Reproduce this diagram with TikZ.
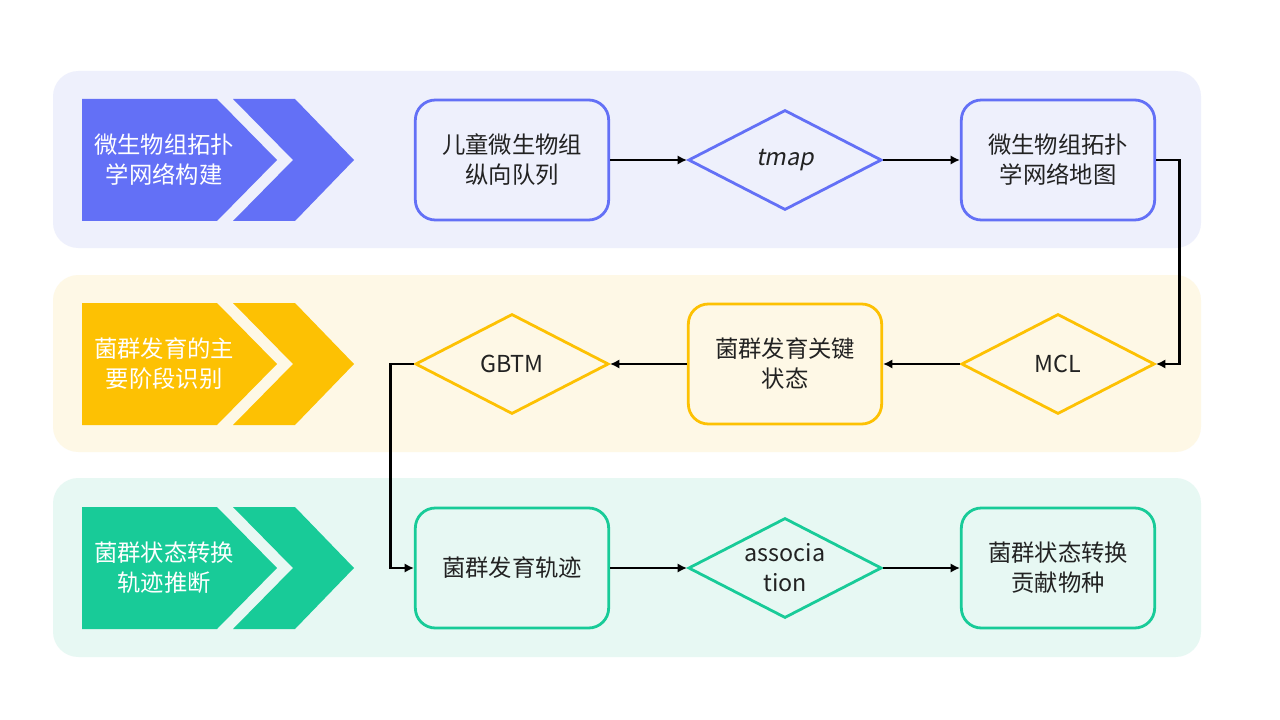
\documentclass[tikz,border=0pt]{standalone}
\usepackage{fontspec}
\setmainfont{Noto Sans CJK SC}
\newfontfamily\slantfont[FakeSlant=0.2]{Noto Sans CJK SC}
\usetikzlibrary{shapes.geometric,arrows.meta}
\definecolor{pur}{HTML}{6370F6}
\definecolor{purbg}{HTML}{EEF0FC}
\definecolor{yel}{HTML}{FDC103}
\definecolor{yelbg}{HTML}{FEF8E6}
\definecolor{grn}{HTML}{18CB98}
\definecolor{grnbg}{HTML}{E7F8F3}
\definecolor{txt}{HTML}{222222}
\begin{document}
\begin{tikzpicture}[x=0.75pt,y=-0.75pt,
  band/.style={rounded corners=19pt, draw=none},
  tfont/.style={font=\fontsize{17.5}{22.5}\selectfont},
  box/.style={draw, rounded corners=15pt, line width=2.1pt, minimum width=145pt, minimum height=90pt, align=center, tfont, text=txt, inner sep=0pt},
  dia/.style={draw, shape=diamond, line width=2.1pt, minimum width=145pt, minimum height=75pt, inner sep=0pt, aspect=1.9, align=center, tfont, text=txt},
  conn/.style={line width=2.2pt, -{Latex[length=7pt,width=7pt]}},
  lab/.style={text=white, align=center, tfont}]
\fill[white] (0,0) rectangle (1280,720);
\useasboundingbox (0,0) rectangle (1280,720);
% bands
\fill[band, purbg] (53,71) rectangle (1201,248);
\fill[band, yelbg] (53,275) rectangle (1201,452);
\fill[band, grnbg] (53,478) rectangle (1201,657);
% chevrons
\foreach \c/\yy in {pur/160, yel/364, grn/568}{
  \fill[\c] (82,\yy-61) -- (217,\yy-61) -- (277,\yy) -- (217,\yy+61) -- (82,\yy+61) -- cycle;
  \fill[\c] (233,\yy-61) -- (295,\yy-61) -- (354,\yy) -- (295,\yy+61) -- (233,\yy+61) -- (293,\yy) -- cycle;
}
\node[lab] (L1) at (164,160) {微生物组拓扑\\学网络构建};
\node[lab] (L2) at (164,364) {菌群发育的主\\要阶段识别};
\node[lab] (L3) at (164,568) {菌群状态转换\\轨迹推断};
% row 1
\node[box, draw=pur] (A) at (512,160) {儿童微生物组\\纵向队列};
\node[dia, draw=pur] (T) at (785,160) {\slantfont tmap};
\node[box, draw=pur] (C) at (1058,160) {微生物组拓扑\\学网络地图};
% row 2
\node[dia, draw=yel] (M) at (1058,364) {MCL};
\node[box, draw=yel] (K) at (785,364) {菌群发育关键\\状态};
\node[dia, draw=yel] (G) at (512,364) {GBTM};
% row 3
\node[box, draw=grn] (R) at (512,568) {菌群发育轨迹};
\node[dia, draw=grn] (S) at (785,568) {associa\\tion};
\node[box, draw=grn] (P) at (1058,568) {菌群状态转换\\贡献物种};
% connectors
\draw[conn] (A.east) -- (T.west);
\draw[conn] (T.east) -- (C.west);
\draw[conn] (C.east) -- ++(23,0) |- (M.east);
\draw[conn] (M.west) -- (K.east);
\draw[conn] (K.west) -- (G.east);
\draw[conn] (G.west) -- ++(-23,0) |- (R.west);
\draw[conn] (R.east) -- (S.west);
\draw[conn] (S.east) -- (P.west);
\end{tikzpicture}
\end{document}
